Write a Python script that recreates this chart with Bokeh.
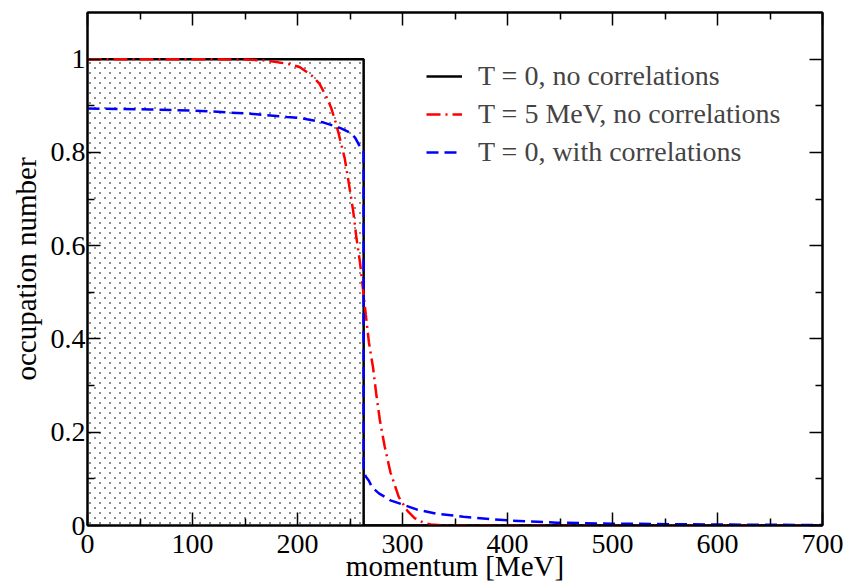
import numpy as np
from bokeh.plotting import figure
from bokeh.models import (Range1d, LinearAxis, FixedTicker, CustomJSTickFormatter, Legend,
                          LegendItem, CustomLabelingPolicy)
from bokeh.embed import file_html
from bokeh.resources import INLINE

# T = 0, no correlations (step function)
step_p = [0, 263, 263, 700]
step_n = [1.0, 1.0, 0.0, 0.0]

# T = 5 MeV, no correlations
red_p = [0, 100, 150, 171, 185, 193, 202, 214, 221, 228, 232, 236, 239, 242.5, 245, 249,
         253, 256, 259.5, 261.5, 265, 268, 272, 275, 278.5, 283, 288.5, 296.5, 304.5,
         311.5, 320, 327, 340, 400, 500, 600, 700]
red_n = [1.0, 1.0, 0.999, 0.997, 0.992, 0.989, 0.983, 0.964, 0.947, 0.917, 0.896, 0.867,
         0.842, 0.81, 0.787, 0.732, 0.675, 0.619, 0.564, 0.525, 0.453, 0.393, 0.338, 0.282,
         0.225, 0.17, 0.114, 0.061, 0.032, 0.016, 0.006, 0.002, 0.0, 0.0, 0.0, 0.0, 0.0]

# T = 0, with correlations
blue_p = [0, 60, 108, 155, 190, 203, 209, 225, 241, 250.5, 255, 260, 263, 263, 265, 268,
          271, 277.5, 288.5, 300, 314, 333, 358, 371, 400, 447, 500, 600, 700]
blue_n = [0.894, 0.892, 0.889, 0.883, 0.876, 0.874, 0.871, 0.864, 0.852, 0.842, 0.831,
          0.81, 0.80, 0.12, 0.105, 0.096, 0.082, 0.069, 0.054, 0.045, 0.034, 0.025, 0.019,
          0.016, 0.011, 0.006, 0.004, 0.002, 0.001]

x_ticks = [0, 100, 200, 300, 400, 500, 600, 700]
y_ticks = [0, 0.2, 0.4, 0.6, 0.8, 1.0]

labels = ["T = 0, no correlations", "T = 5 MeV, no correlations", "T = 0, with correlations"]

FONT = "Liberation Serif"

X_MAX, Y_MAX = 700, 1.1
FRAME_W, FRAME_H = 735, 513

p = figure(width=845, height=584, output_backend="svg", toolbar_location=None,
           x_range=Range1d(0, X_MAX), y_range=Range1d(0, Y_MAX),
           min_border_left=87, min_border_right=23, min_border_top=12, min_border_bottom=59,
           background_fill_color="white", border_fill_color="white")
p.grid.visible = False
p.outline_line_color = "black"
p.outline_line_width = 2

fmt = CustomJSTickFormatter(code="return String(Math.round(tick*10)/10);")

def style_axis(ax, ticks, minor, show_labels):
    ax.ticker = FixedTicker(ticks=ticks, minor_ticks=minor)
    ax.axis_line_color = "black"
    ax.axis_line_width = 2
    ax.major_tick_in = 13
    ax.major_tick_out = 0
    ax.minor_tick_in = 7
    ax.minor_tick_out = 0
    ax.major_tick_line_color = "black"
    ax.major_tick_line_width = 1.5
    ax.minor_tick_line_color = "black"
    ax.minor_tick_line_width = 1.5
    ax.formatter = fmt
    ax.major_label_text_font = FONT
    ax.major_label_text_color = "black"
    if show_labels:
        ax.major_label_text_font_size = "28px"
    else:
        ax.major_label_text_font_size = "1px"
        ax.major_label_policy = CustomLabelingPolicy(code="return []")
    ax.axis_label_text_font = FONT
    ax.axis_label_text_font_size = "29px"
    ax.axis_label_text_font_style = "normal"
    ax.axis_label_text_color = "black"

x_minor = [50 + 100 * i for i in range(7)]
y_minor = [0.1, 0.3, 0.5, 0.7, 0.9]

style_axis(p.xaxis[0], x_ticks, x_minor, True)
style_axis(p.yaxis[0], y_ticks, y_minor, True)
p.xaxis[0].axis_label = "momentum [MeV]"
p.yaxis[0].axis_label = "occupation number"
p.xaxis[0].major_label_standoff = 9
p.xaxis[0].axis_label_standoff = -6
p.yaxis[0].major_label_standoff = 2
p.yaxis[0].axis_label_standoff = 6

top_ax = LinearAxis()
right_ax = LinearAxis()
style_axis(top_ax, x_ticks, x_minor, False)
style_axis(right_ax, y_ticks, y_minor, False)
top_ax.major_label_standoff = 0
right_ax.major_label_standoff = 0
p.add_layout(top_ax, "above")
p.add_layout(right_ax, "right")

# dotted texture filling the Fermi sea below the T = 0 step (staggered lattice, ~10 px x 5 px)
kf = step_p[1]
dx = 10 * X_MAX / FRAME_W
dy = 5 * Y_MAX / FRAME_H
rows = np.arange(dy / 2, step_n[0], dy)
dot_x, dot_y = [], []
for i, yy in enumerate(rows):
    xs = np.arange(dx / 4 + (i % 2) * dx / 2, kf, dx)
    dot_x.extend(xs.tolist())
    dot_y.extend([float(yy)] * len(xs))
p.scatter(dot_x, dot_y, marker="square", size=1.4, fill_color="#111111",
          line_color=None, fill_alpha=0.9)

r_black = p.line(step_p, step_n, line_color="black", line_width=2.5)
r_red = p.line(red_p, red_n, line_color="red", line_width=2.5, line_dash="14 5 2 5")
r_blue = p.line(blue_p, blue_n, line_color="blue", line_width=2.5, line_dash="12 6")

legend = Legend(items=[LegendItem(label=labels[0], renderers=[r_black]),
                       LegendItem(label=labels[1], renderers=[r_red]),
                       LegendItem(label=labels[2], renderers=[r_blue])],
                location=(339, 357))
legend.border_line_color = None
legend.background_fill_alpha = 0
legend.label_text_font = FONT
legend.label_text_font_size = "28px"
legend.glyph_width = 36
legend.glyph_height = 30
legend.label_height = 30
legend.spacing = 6
legend.padding = 0
legend.margin = 0
legend.label_standoff = 16
p.add_layout(legend)

open("out.html", "w").write(file_html(p, INLINE))
